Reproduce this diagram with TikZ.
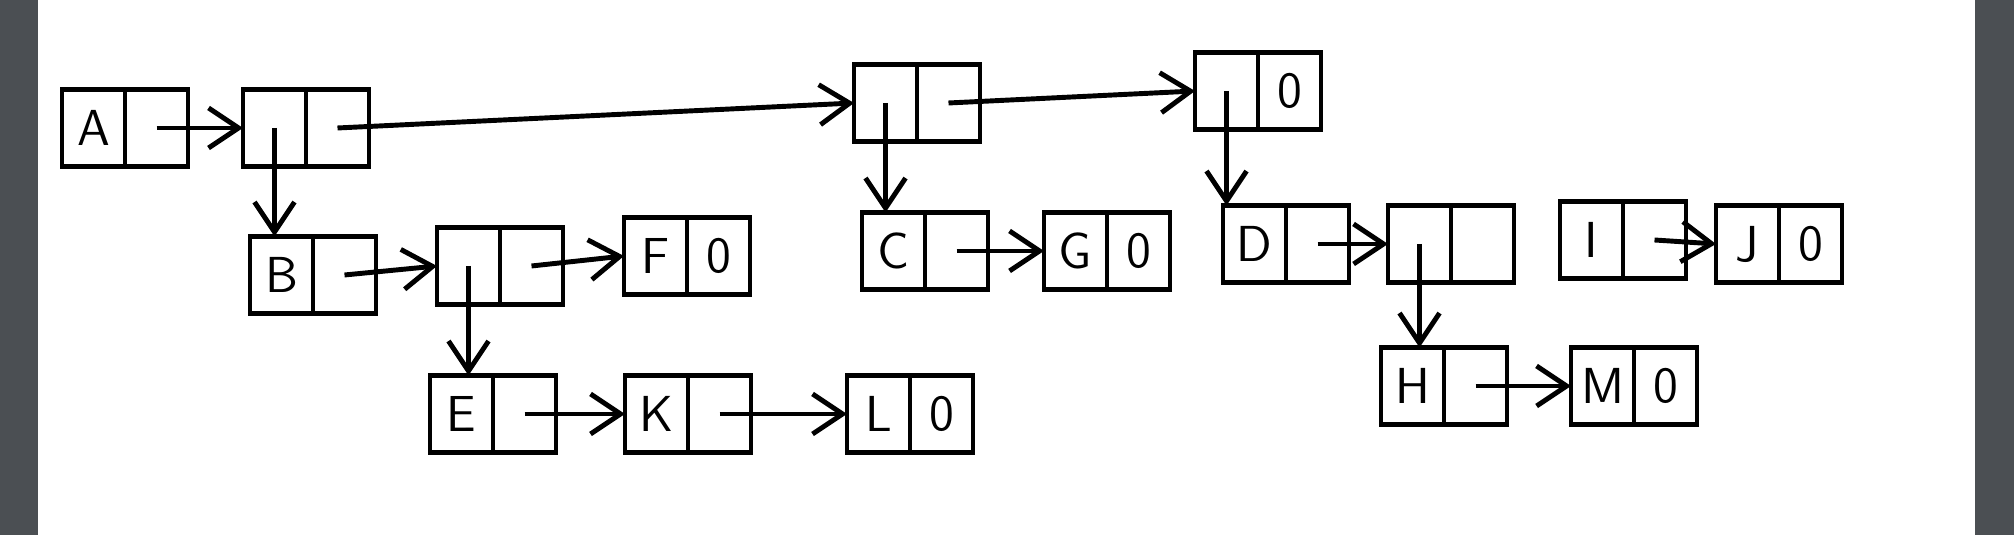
\documentclass[tikz,border=0pt]{standalone}
\usepackage{tikz}
\usetikzlibrary{positioning,arrows.meta}
\definecolor{viewergrey}{RGB}{75,79,83}

\begin{document}
\begin{tikzpicture}[data node/.style={draw, line width=1.4pt, minimum width=0.63cm, minimum height=0.77cm,
    inner sep=0pt, outer sep=0pt, font=\sffamily\Large},
  link node/.style={data node},
  pointer/.style={line width=1.4pt, -{Straight Barb[length=3mm,width=4mm]}}]
  \useasboundingbox (0,0) rectangle (20.14,-5.35);
  \fill[viewergrey] (0,0) rectangle (0.38,-5.35);
  \fill[viewergrey] (19.75,0) rectangle (20.14,-5.35);

  % top level list
  \node[data node] (A) at (0.935,-1.28) {A};
  \node[link node] (Ap) [right=0pt of A] {};
  \node[data node] (n1) [right=0.55cm of Ap] {};
  \node[link node] (n1p) [right=0pt of n1] {};
  \node[data node] (n2) [right=4.85cm of n1p, yshift=0.25cm] {};
  \node[link node] (n2p) [right=0pt of n2] {};
  \node[data node] (n3) [right=2.15cm of n2p, yshift=0.12cm] {};
  \node[link node] (n3p) [right=0pt of n3] {0};

  % sublist of B
  \node[data node] (B) [below=0.7cm of n1, xshift=0.07cm] {B};
  \node[link node] (Bp) [right=0pt of B] {};
  \node[data node] (n4) [right=0.61cm of Bp, yshift=0.09cm] {};
  \node[link node] (n4p) [right=0pt of n4] {};
  \node[data node] (F) [right=0.61cm of n4p, yshift=0.1cm] {F};
  \node[link node] (Fp) [right=0pt of F] {0};
  \node[data node] (E) [below=0.71cm of n4, xshift=-0.07cm] {E};
  \node[link node] (Ep) [right=0pt of E] {};
  \node[data node] (K) [right=0.69cm of Ep] {K};
  \node[link node] (Kp) [right=0pt of K] {};
  \node[data node] (L) [right=0.96cm of Kp] {L};
  \node[link node] (Lp) [right=0pt of L] {0};

  % sublist of C
  \node[data node] (C) [below=0.71cm of n2, xshift=0.08cm] {C};
  \node[link node] (Cp) [right=0pt of C] {};
  \node[data node] (G) [right=0.56cm of Cp] {G};
  \node[link node] (Gp) [right=0pt of G] {0};

  % sublist of D
  \node[data node] (D) [below=0.76cm of n3, xshift=0.28cm] {D};
  \node[link node] (Dp) [right=0pt of D] {};
  \node[data node] (n5) [right=0.39cm of Dp] {};
  \node[link node] (n5p) [right=0pt of n5] {};
  \node[data node] (H) [below=0.65cm of n5, xshift=-0.07cm] {H};
  \node[link node] (Hp) [right=0pt of H] {};
  \node[data node] (M) [right=0.64cm of Hp] {M};
  \node[link node] (Mp) [right=0pt of M] {0};
  \node[data node] (I) [right=0.46cm of n5p, yshift=0.04cm] {I};
  \node[link node] (Ip) [right=0pt of I] {};
  \node[data node] (J) [right=0.3cm of Ip, yshift=-0.04cm] {J};
  \node[link node] (Jp) [right=0pt of J] {0};

  \path[pointer]
    (Ap.center) edge (n1.west)
    (n1p.center) edge (n2.west)
    (n2p.center) edge (n3.west)
    (n1.center) edge (n1.center |- B.north)
    (n2.center) edge (n2.center |- C.north)
    (n3.center) edge (n3.center |- D.north)
    (Bp.center) edge (n4.west)
    (n4p.center) edge (F.west)
    (n4.center) edge (n4.center |- E.north)
    (Ep.center) edge (K.west)
    (Kp.center) edge (L.west)
    (Cp.center) edge (G.west)
    (Dp.center) edge (n5.west)
    (n5.center) edge (n5.center |- H.north)
    (Hp.center) edge (M.west)
    (Ip.center) edge (J.west);
\end{tikzpicture}
\end{document}
